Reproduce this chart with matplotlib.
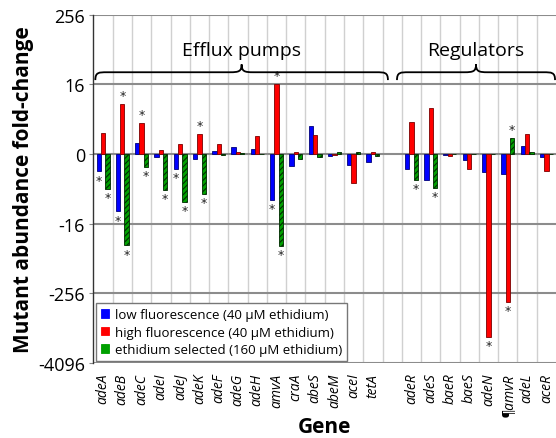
import matplotlib
matplotlib.use("Agg")
import matplotlib.pyplot as plt
from matplotlib.path import Path
from matplotlib.patches import PathPatch, Patch
import numpy as np

plt.rcParams['font.family'] = ['Open Sans', 'DejaVu Sans']

# genes (efflux pumps, then regulators)
efflux = ['adeA', 'adeB', 'adeC', 'adeI', 'adeJ', 'adeK', 'adeF', 'adeG',
          'adeH', 'amvA', 'craA', 'abeS', 'abeM', 'aceI', 'tetA']
regulators = ['adeR', 'adeS', 'baeR', 'baeS', 'adeN', '¶amvR', 'adeL', 'aceR']
genes = efflux + regulators

# signed log2 fold-change
low_fl = [-1.0, -3.3, 0.65, -0.19, -0.83, -0.29, 0.19, 0.38, 0.29, -2.65,
          -0.69, 1.63, -0.1, -0.63, -0.48,
          -0.85, -1.5, -0.05, -0.35, -1.02, -1.15, 0.48, -0.15]
high_fl = [1.19, 2.88, 1.77, 0.21, 0.58, 1.15, 0.6, 0.1, 1.02, 4.0,
           0.1, 1.1, -0.05, -1.65, 0.13,
           1.85, 2.67, -0.1, -0.88, -10.5, -8.5, 1.13, -0.96]
eth_sel = [-2.0, -5.25, -0.73, -2.04, -2.75, -2.31, -0.03, 0.05, 0.03, -5.27,
           -0.3, -0.15, 0.1, 0.1, -0.1,
           -1.5, -1.94, 0.03, 0.03, 0.03, 0.94, 0.1, 0.03]

# significance markers per series
star_low = ['adeA', 'adeB', 'adeJ', 'amvA']
star_high = ['adeB', 'adeC', 'adeK', 'amvA', 'adeN', '¶amvR']
star_eth = ['adeA', 'adeB', 'adeC', 'adeI', 'adeJ', 'adeK', 'amvA',
            'adeR', 'adeS', '¶amvR']

yticks = [-12, -8, -4, 0, 4, 8]
ytick_labels = ['-4096', '-256', '-16', '0', '16', '256']

x = np.array(list(range(len(efflux))) +
             [len(efflux) + 1 + i for i in range(len(regulators))])

fig = plt.figure(figsize=(5.56, 4.39), dpi=100)
ax = fig.add_axes([0.168, 0.171, 0.832, 0.793])

w = 0.225
series = [
    (low_fl, -w, dict(color='#0000ff', edgecolor='#00007a'), star_low,
     'low fluorescence (40 µM ethidium)'),
    (high_fl, 0, dict(color='#ff0000', edgecolor='#7a0000'), star_high,
     'high fluorescence (40 µM ethidium)'),
    (eth_sel, w, dict(color='#00a000', edgecolor='#002a00', hatch='//////'),
     star_eth, 'ethidium selected (160 µM ethidium)'),
]
plt.rcParams['hatch.linewidth'] = 0.8
handles = []
for vals, off, style, stars, label in series:
    ax.bar(x + off, vals, width=w, linewidth=0.6, zorder=3, **style)
    for g in stars:
        i = genes.index(g)
        v = vals[i]
        ax.text(x[i] + off, v + (0.12 if v > 0 else -0.12), '*',
                ha='center', va='bottom' if v > 0 else 'top',
                fontsize=9, color='#222222', zorder=4,
                fontfamily='DejaVu Sans')
    handles.append(Patch(label=label, linewidth=0.6, **style))

ax.set_xlim(-0.5, 23.5)
ax.set_ylim(-12, 8)
ax.set_yticks(yticks)
ax.set_yticklabels(ytick_labels, fontsize=13)
ax.set_xticks(x)
ax.set_xticklabels(genes, rotation=90, fontsize=10, style='italic')
ax.tick_params(axis='x', length=0, pad=7)
ax.tick_params(axis='y', length=3, color='#888888', pad=3)

# grid
for yy in yticks:
    ax.axhline(yy, color='#8c8c8c', lw=1.5, zorder=1)
for xx in np.arange(0.5, 23.5, 1.0):
    ax.axvline(xx, color='#d0d0d0', lw=1.0, zorder=0)
for s in ['top', 'right', 'bottom']:
    ax.spines[s].set_visible(False)
ax.spines['left'].set_color('#333333')
ax.spines['left'].set_linewidth(1.0)


def brace(ax, x0, x1, y0, y1, y2, a=0.6):
    xm = (x0 + x1) / 2
    verts = [(x0, y0),
             (x0, y1), (x0 + 0.3 * a, y1), (x0 + a, y1),
             (xm - a, y1),
             (xm - 0.25 * a, y1), (xm, y1 + 0.1 * (y2 - y1)), (xm, y2),
             (xm, y1 + 0.1 * (y2 - y1)), (xm + 0.25 * a, y1), (xm + a, y1),
             (x1 - a, y1),
             (x1 - 0.3 * a, y1), (x1, y1), (x1, y0)]
    codes = [Path.MOVETO,
             Path.CURVE4, Path.CURVE4, Path.CURVE4,
             Path.LINETO,
             Path.CURVE4, Path.CURVE4, Path.CURVE4,
             Path.CURVE4, Path.CURVE4, Path.CURVE4,
             Path.LINETO,
             Path.CURVE4, Path.CURVE4, Path.CURVE4]
    ax.add_patch(PathPatch(Path(verts, codes), fill=False, lw=1.3,
                           color='black', zorder=5))


brace(ax, -0.4, 14.78, 4.25, 4.7, 5.15)
brace(ax, 15.25, 23.45, 4.25, 4.7, 5.15)
ax.text(7.2, 6.0, 'Efflux pumps', ha='center', va='center', fontsize=14)
ax.text(19.35, 6.0, 'Regulators', ha='center', va='center', fontsize=14)

ax.set_ylabel('Mutant abundance fold-change', fontsize=15,
              fontweight='bold', labelpad=3)
ax.set_xlabel('Gene', fontsize=15, fontweight='bold', labelpad=0)

leg = ax.legend(handles=handles, loc='lower left',
                bbox_to_anchor=(0.006, 0.006), borderaxespad=0,
                fontsize=9.5, handlelength=0.65, handleheight=0.65,
                handletextpad=0.4, labelspacing=0.35, borderpad=0.35,
                fancybox=False, framealpha=1, edgecolor='#777777')
leg.set_zorder(6)

fig.savefig('out.png', dpi=100)
